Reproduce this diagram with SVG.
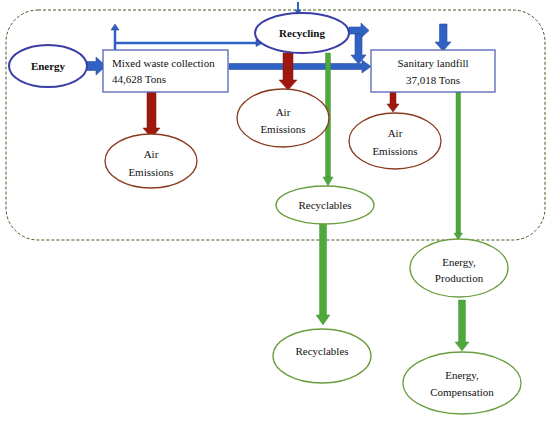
<svg xmlns="http://www.w3.org/2000/svg" width="550" height="421" viewBox="0 0 550 421">
<style>
text{font-family:"Liberation Serif","DejaVu Serif",serif;font-size:11px;fill:#111;}
.b{font-weight:bold;}
.blueE{fill:#fff;stroke:#3a3fa6;stroke-width:2;}
.box{fill:#fff;stroke:#5563b4;stroke-width:1.3;}
.redE{fill:#fff;stroke:#8a3a1e;stroke-width:1.3;}
.grnE{fill:#fff;stroke:#6a9d3e;stroke-width:1.3;}
.bA{fill:#2f62c2;stroke:#2a4fa0;stroke-width:0.6;}
.rA{fill:#a0180c;stroke:#7a1208;stroke-width:0.5;}
.gA{fill:#4fa83a;stroke:#3f8a30;stroke-width:0.4;}
</style>
<rect x="6" y="10" width="539" height="230" rx="32" ry="32" fill="none" stroke="#3e5a22" stroke-width="1" stroke-dasharray="3,2"/>
<g id="connectors">
  <polygon class="bA" points="86,61.5 96,61.5 96,57 106,66 96,75 96,70.5 86,70.5"/>
  <polyline points="115,50 115,29" fill="none" stroke="#2f62c2" stroke-width="2.5"/>
  <polygon class="bA" points="111,30 115,24 119,30"/>
  <polyline points="115,43 258,43" fill="none" stroke="#2f62c2" stroke-width="2.5"/>
  <polygon class="bA" points="256,39.5 263,43 256,46.5"/>
  <line x1="298" y1="2" x2="298" y2="11" stroke="#2f62c2" stroke-width="2"/>
  <polygon class="bA" points="295,10 298,15 301,10"/>
  <polygon class="bA" points="229,63.5 362,63.5 362,60 371,66.5 362,73 362,69.5 229,69.5"/>
  <polygon class="bA" points="349,27 361,27 361,23 369,30.5 361,38 361,34 349,34"/>
  <polygon class="bA" points="355,34 362,34 362,55 366,55 358.5,64 351,55 355,55"/>
  <polygon class="bA" points="439.5,24 447,24 447,42 451,42 443,51 435,42 439.5,42"/>
  <polygon class="rA" points="147,90 156,90 156,128 160,128 151.5,138 143,128 147,128"/>
  <polygon class="rA" points="283,53 293,53 293,80 297,80 288,90 279,80 283,80"/>
  <polygon class="rA" points="390,92 396,92 396,104 399,104 393,112 387,104 390,104"/>
  <rect class="gA" x="325.5" y="53" width="5" height="125"/>
  <polygon class="gA" points="323,177 333,177 328,186"/>
  <polygon class="gA" points="319.5,223 326.5,223 326.5,315 330,315 323,325 316,315 319.5,315"/>
  <rect class="gA" x="456" y="92" width="4.5" height="142"/>
  <polygon class="gA" points="454,233 462.5,233 458.2,240"/>
  <polygon class="gA" points="458.5,300 465.5,300 465.5,342 469,342 462,351 455,342 458.5,342"/>
</g>
<g id="energy">
  <ellipse class="blueE" cx="48" cy="66" rx="39" ry="21"/>
  <text class="b" x="48" y="70" text-anchor="middle">Energy</text>
</g>
<g id="mixed">
  <rect class="box" x="103" y="50" width="125" height="42"/>
  <text x="112" y="67">Mixed waste collection</text>
  <text x="112" y="83">44,628 Tons</text>
</g>
<g id="recycling">
  <ellipse class="blueE" cx="302" cy="33" rx="47" ry="20"/>
  <text class="b" x="302" y="37" text-anchor="middle">Recycling</text>
</g>
<g id="landfill">
  <rect class="box" x="371" y="50" width="124" height="42"/>
  <text x="433" y="67" text-anchor="middle">Sanitary landfill</text>
  <text x="433" y="84" text-anchor="middle">37,018 Tons</text>
</g>
<g id="air1">
  <ellipse class="redE" cx="151" cy="161" rx="46" ry="27"/>
  <text x="151" y="158" text-anchor="middle">Air</text>
  <text x="151" y="176" text-anchor="middle">Emissions</text>
</g>
<g id="air2">
  <ellipse class="redE" cx="283" cy="118" rx="46" ry="29"/>
  <text x="283" y="116" text-anchor="middle">Air</text>
  <text x="283" y="133" text-anchor="middle">Emissions</text>
</g>
<g id="air3">
  <ellipse class="redE" cx="395" cy="141" rx="46" ry="28"/>
  <text x="395" y="137" text-anchor="middle">Air</text>
  <text x="395" y="155" text-anchor="middle">Emissions</text>
</g>
<g id="recyclables1">
  <ellipse class="grnE" cx="325" cy="205" rx="49" ry="19"/>
  <text x="325" y="209" text-anchor="middle">Recyclables</text>
</g>
<g id="recyclables2">
  <ellipse class="grnE" cx="322" cy="356" rx="49" ry="27"/>
  <text x="322" y="355" text-anchor="middle">Recyclables</text>
</g>
<g id="production">
  <ellipse class="grnE" cx="459" cy="268" rx="49" ry="29"/>
  <text x="459" y="266" text-anchor="middle">Energy,</text>
  <text x="459" y="282" text-anchor="middle">Production</text>
</g>
<g id="compensation">
  <ellipse class="grnE" cx="462" cy="383" rx="59" ry="31"/>
  <text x="462" y="379" text-anchor="middle">Energy,</text>
  <text x="462" y="396" text-anchor="middle">Compensation</text>
</g>
</svg>
